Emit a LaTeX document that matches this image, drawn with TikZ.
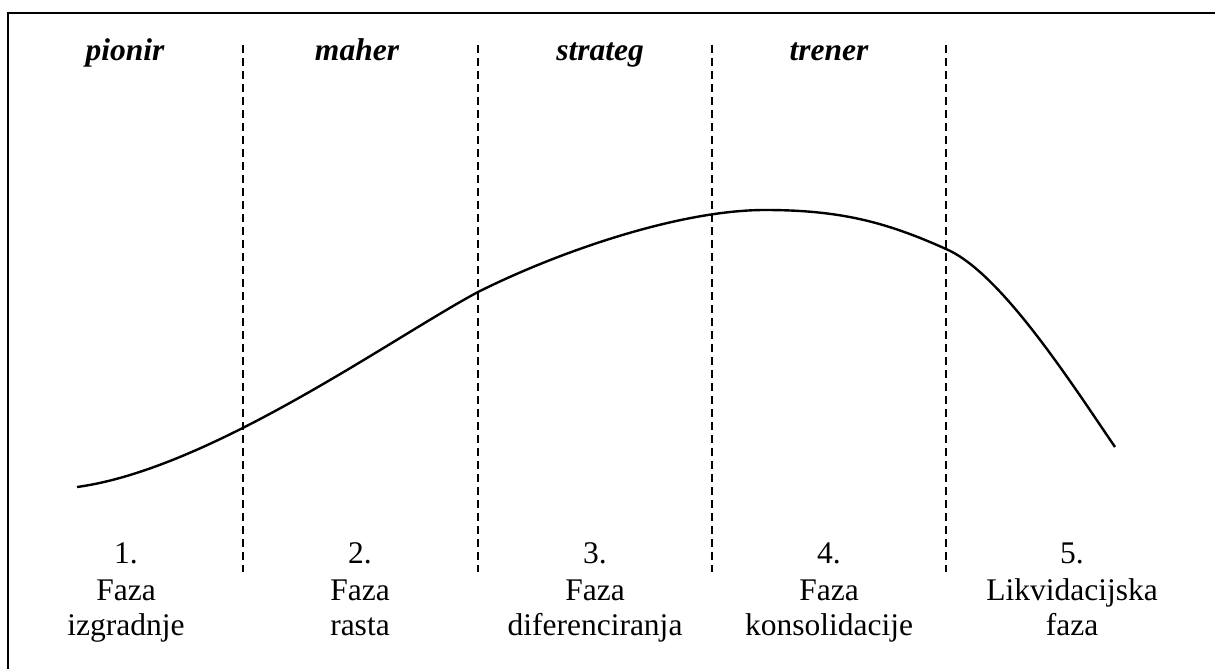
\documentclass[tikz,border=0pt]{standalone}
\usepackage{fontspec}
\setmainfont{Liberation Serif}
\begin{document}
\begin{tikzpicture}[x=1pt,y=-1pt,
  lbl/.style={anchor=base,inner sep=0pt,font=\fontsize{31.5}{36}\selectfont},
  ttl/.style={anchor=base,inner sep=0pt,font=\fontsize{31.5}{36}\selectfont\bfseries\itshape},
  divider/.style={line width=1.7pt,dash pattern=on 8pt off 5pt},
  curveline/.style={line width=2.4pt},
  frameline/.style={line width=2pt}]
\useasboundingbox (0,0) rectangle (1215,669);
% frame (right and bottom sides lie outside the picture)
\draw[frameline] (1215,13) -- (8,13) -- (8,669);
% dividers
\foreach \x/\n in {243/a,478/b,712/c,946/d}{
  \coordinate (top\n) at (\x,45);
  \coordinate (bot\n) at (\x,572);
  \draw[divider] (top\n) -- (bot\n);
}
% titles
\node[ttl] (t1) at (125,60) {pionir};
\node[ttl] (t2) at (357,60) {maher};
\node[ttl] (t3) at (600,60) {strateg};
\node[ttl] (t4) at (829,60) {trener};
% curve
\coordinate (c0) at (77,487);
\coordinate (c1) at (478,292);
\coordinate (c2) at (765,210);
\coordinate (c3) at (946,249);
\coordinate (c4) at (1115,447);
\draw[curveline] (c0) .. controls (210,469) and (392,338) .. (c1)
  .. controls (560,251) and (680,210) .. (c2)
  .. controls (840,210) and (886,222) .. (c3)
  .. controls (1000,272) and (1070,381) .. (c4);
% phase labels
\foreach \x/\a/\b/\c/\n in {126/1./Faza/izgradnje/1, 360/2./Faza/rasta/2, 595/3./Faza/diferenciranja/3, 829/4./Faza/konsolidacije/4, 1072/5./Likvidacijska/faza/5}{
  \node[lbl] (num\n) at (\x,563) {\a};
  \node[lbl] (la\n) at (\x,600) {\b};
  \node[lbl] (lb\n) at (\x,635) {\c};
}
\end{tikzpicture}
\end{document}
